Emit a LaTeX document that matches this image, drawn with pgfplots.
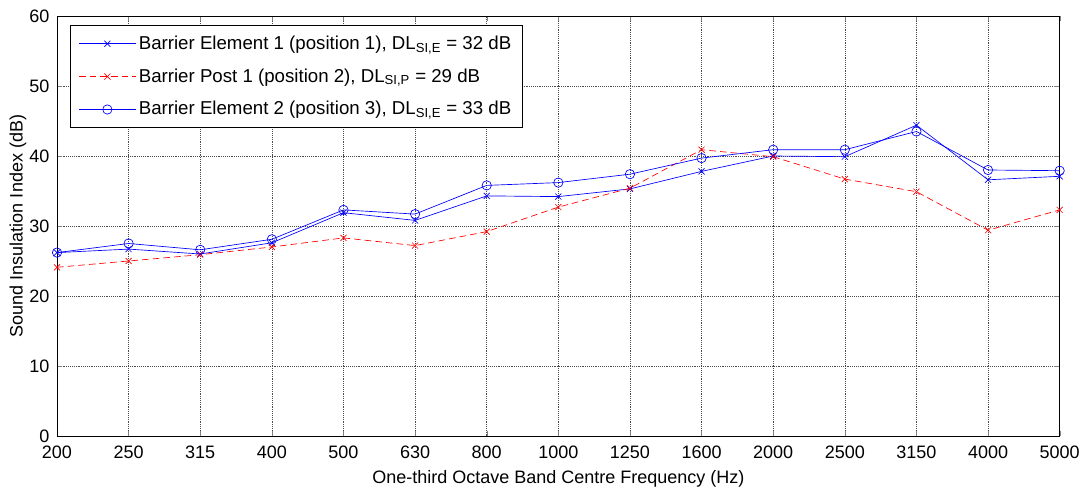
\documentclass[border=0pt]{standalone}
\usepackage{pgfplots}
\pgfplotsset{compat=1.18}
\usepackage{fontspec}
\setmainfont{Liberation Sans}
\begin{document}
\fontsize{13.5}{16}\selectfont
\begin{tikzpicture}
\begin{axis}[
  scale only axis,
  width=752pt, height=315pt,
  xmin=0, xmax=14, ymin=0, ymax=60,
  xtick={0,1,...,14},
  xticklabels={200,250,315,400,500,630,800,1000,1250,1600,2000,2500,3150,4000,5000},
  ytick={0,10,...,60},
  /pgf/number format/assume math mode=true,
  tick label style={font=\fontsize{13.5}{16}\selectfont},
  xticklabel style={yshift=-2.5pt},
  yticklabel style={xshift=-1pt},
  label style={font=\fontsize{13.5}{16}\selectfont},
  xlabel={One-third Octave Band Centre Frequency (Hz)},
  ylabel={Sound Insulation Index (dB)},
  xlabel style={yshift=0pt},
  ylabel style={yshift=-7pt},
  grid=major,
  major grid style={black!70, densely dotted, line width=0.4pt},
  tick align=inside,
  major tick length=4pt,
  axis line style={black, line width=0.5pt},
  legend cell align=left,
  legend style={at={(rel axis cs:0,1)}, anchor=north west, xshift=10pt, yshift=-7pt,
    font=\fontsize{14}{16}\selectfont, draw=black, row sep=8.5pt, inner xsep=6pt, inner ysep=5.5pt,
    /tikz/every odd column/.append style={inner xsep=4pt}},
  legend image code/.code={\draw[#1, mark repeat=2, mark phase=2] plot coordinates {(0cm,0cm) (0.75cm,0cm) (1.5cm,0cm)};},
]
\addplot[blue, line width=0.5pt, mark=x, mark size=3.2pt] coordinates {
(0,26.2) (1,26.7) (2,26.0) (3,27.6) (4,31.9) (5,30.8) (6,34.3) (7,34.2) (8,35.3) (9,37.8) (10,40.0) (11,39.9) (12,44.4) (13,36.6) (14,37.1)};
\addlegendentry{Barrier Element 1 (position 1), DL\textsubscript{SI,E} = 32 dB}
\addplot[red, dash pattern=on 5pt off 3pt, line width=0.5pt, mark=x, mark size=3.2pt, mark options={solid}] coordinates {
(0,24.1) (1,25.0) (2,25.9) (3,27.0) (4,28.3) (5,27.2) (6,29.2) (7,32.7) (8,35.4) (9,40.9) (10,39.9) (11,36.7) (12,34.9) (13,29.4) (14,32.3)};
\addlegendentry{Barrier Post 1 (position 2), DL\textsubscript{SI,P} = 29 dB}
\addplot[blue, line width=0.5pt, mark=o, mark size=3.5pt] coordinates {
(0,26.2) (1,27.5) (2,26.6) (3,28.1) (4,32.3) (5,31.7) (6,35.8) (7,36.2) (8,37.4) (9,39.7) (10,40.9) (11,40.9) (12,43.5) (13,38.0) (14,37.9)};
\addlegendentry{Barrier Element 2 (position 3), DL\textsubscript{SI,E} = 33 dB}
\end{axis}
\pgfresetboundingbox
\useasboundingbox (-42.75pt,-39pt) rectangle (769.5pt,327pt);
\end{tikzpicture}
\end{document}
